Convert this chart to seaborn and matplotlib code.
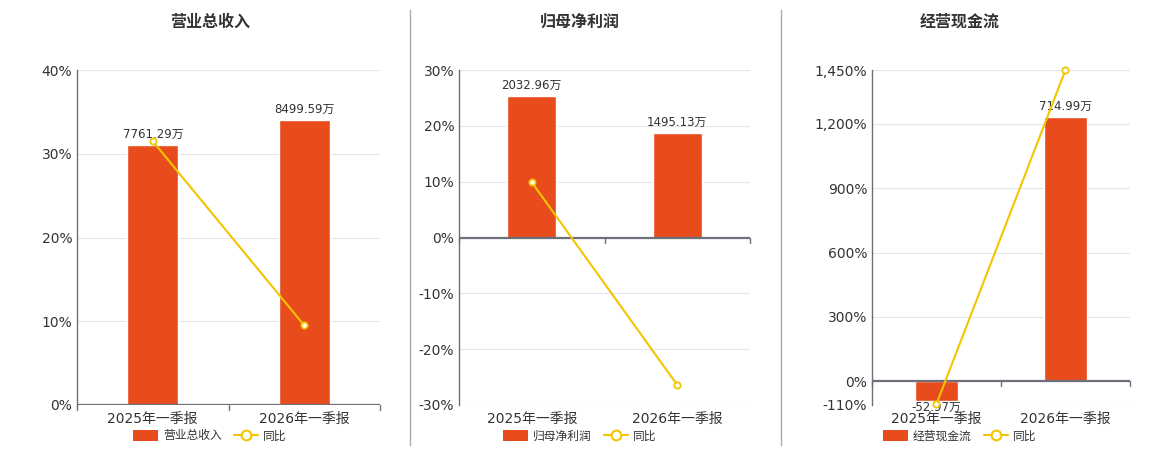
import matplotlib
matplotlib.use("Agg")
import matplotlib.pyplot as plt
import matplotlib.ticker as mticker
from matplotlib.patches import Patch
from matplotlib.lines import Line2D
import pandas as pd
import seaborn as sns

periods = ["2025年一季报", "2026年一季报"]
titles = ["营业总收入", "归母净利润", "经营现金流"]

revenue = [7761.29, 8499.59]
revenue_yoy = [31.5, 9.5]
net_profit = [2032.96, 1495.13]
net_profit_yoy = [9.9, -26.4]
cashflow = [-52.97, 714.99]
cashflow_yoy = [-105.0, 1450.0]

# percent axis (left) and the hidden amount axis that shares its zero
pct_limits = [(0, 40), (-30, 30), (-110, 1450)]
pct_ticks = [[0, 10, 20, 30, 40],
             [-30, -20, -10, 0, 10, 20, 30],
             [-110, 0, 300, 600, 900, 1200, 1450]]
wan_per_pct = [250, 80, 0.58]

BAR = "#E84B1C"
LINE = "#F2C500"
GRID = "#E0E6F1"
AXIS = "#6E7079"
TXT = "#333333"

sns.set_theme(style="white")
plt.rcParams["font.family"] = ["DejaVu Sans", "Noto Sans CJK SC"]

W, H = 1160, 450
fig = plt.figure(figsize=(W / 100, H / 100), dpi=100)

boxes = [(77, 380), (459, 750), (872, 1130)]
centers = [210, 580, 960]
series = [(revenue, revenue_yoy), (net_profit, net_profit_yoy), (cashflow, cashflow_yoy)]

for i, (vals, yoy) in enumerate(series):
    x0, x1 = boxes[i]
    ax = fig.add_axes([x0 / W, 1 - 405 / H, (x1 - x0) / W, 335 / H])
    df = pd.DataFrame({"period": periods, "value": vals, "yoy": yoy})
    lo, hi = pct_limits[i]
    k = wan_per_pct[i]

    sns.barplot(data=df, x="period", y="value", color=BAR, saturation=1,
                width=0.335, ax=ax, zorder=2)
    ax.set_xlim(-0.5, 1.5)
    ax.set_ylim(lo * k, hi * k)
    ax.set_yticks([t * k for t in pct_ticks[i]])
    ax.yaxis.grid(True, color=GRID, lw=0.8)
    ax.set_axisbelow(True)
    ax.set_xlabel("")
    ax.set_ylabel("")
    for s in ax.spines.values():
        s.set_visible(False)

    for p, v in zip(ax.patches, vals):
        if v >= 0:
            ax.annotate(f"{v:.2f}万", (p.get_x() + p.get_width() / 2, v),
                        xytext=(0, 3), textcoords="offset points",
                        ha="center", va="bottom", fontsize=8.5, color=TXT)
        else:
            ax.annotate(f"{v:.2f}万", (p.get_x() + p.get_width() / 2, v),
                        xytext=(0, 0), textcoords="offset points",
                        ha="center", va="top", fontsize=8.5, color=TXT)

    # zero line with category boundary ticks
    ax.axhline(0, color=AXIS, lw=1.6, zorder=3)
    z = (0 - lo) / (hi - lo)
    for xb in (-0.5, 0.5, 1.5):
        ax.plot([xb, xb], [z, z - 5 / 335], color=AXIS, lw=1,
                transform=ax.get_xaxis_transform(), clip_on=False, zorder=3)

    ax2 = ax.twinx()
    sns.pointplot(data=df, x="period", y="yoy", ax=ax2, color=LINE,
                  errorbar=None, markers="o", linewidth=1.5, markersize=4.5,
                  markeredgewidth=1.3)
    for ln in ax2.lines:
        ln.set_markerfacecolor("white")
        ln.set_clip_on(False)
    ax2.set_ylim(lo, hi)
    ax2.set_yticks(pct_ticks[i])
    ax2.yaxis.set_major_formatter(mticker.FuncFormatter(lambda v, _: f"{v:,.0f}%"))
    ax2.yaxis.tick_left()
    ax2.set_ylabel("")
    ax2.grid(False)
    ax2.tick_params(axis="y", length=0, labelsize=10, labelcolor=TXT, pad=3.5)
    for name, s in ax2.spines.items():
        s.set_visible(name == "left")
    ax2.spines["left"].set_color(AXIS)
    ax2.spines["left"].set_linewidth(1)

    ax.tick_params(axis="y", left=False, right=False, labelleft=False, labelright=False)
    ax.tick_params(axis="x", length=0, labelsize=10, labelcolor=TXT, pad=5)
    ax.set_xticks([0, 1])
    ax.set_xticklabels(periods)

    fig.text(centers[i] / W, 1 - 22 / H, titles[i], ha="center", va="center",
             fontsize=11.5, fontweight="bold", color=TXT)

    handles = [Patch(facecolor=BAR, edgecolor="none"),
               Line2D([], [], color=LINE, lw=1.5, marker="o", markersize=7,
                      markerfacecolor="white", markeredgewidth=1.5)]
    fig.legend(handles, [titles[i], "同比"], loc="center",
               bbox_to_anchor=(centers[i] / W, 1 - 436 / H), ncol=2,
               frameon=False, fontsize=8.5, handlelength=2.1, handleheight=1.1,
               handletextpad=0.4, columnspacing=1.0, labelcolor=TXT)

for xs in (410, 781):
    fig.add_artist(Line2D([xs / W, xs / W], [1 - 10 / H, 1 - 445 / H],
                          color="#AAAAAA", lw=1))

fig.savefig("out.png", dpi=100)
